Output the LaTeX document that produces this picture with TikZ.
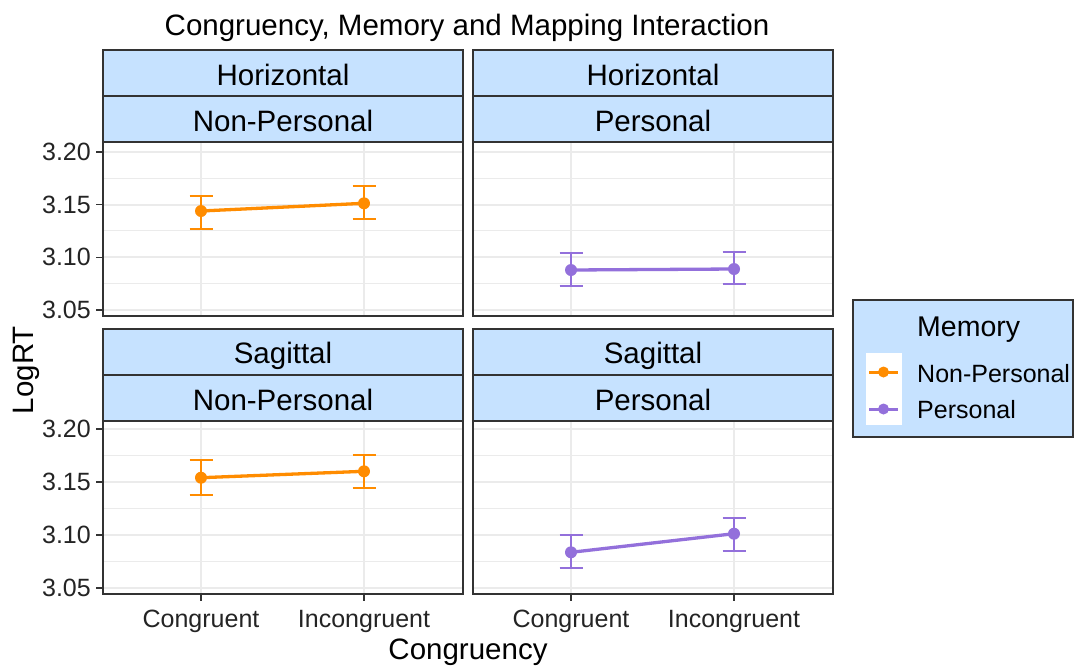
\documentclass[tikz,border=0pt]{standalone}
\usepackage{fontspec}
\setmainfont{Liberation Sans}
\definecolor{stripc}{HTML}{C6E2FF}
\definecolor{gridc}{HTML}{EBEBEB}
\definecolor{framec}{HTML}{333333}
\definecolor{npc}{HTML}{FF8C00}
\definecolor{pc}{HTML}{9370DB}
\tikzset{
  stripbox/.style={fill=stripc, draw=framec, line width=1.4pt},
  framebox/.style={draw=framec, line width=1.4pt},
  gridmaj/.style={draw=gridc, line width=1.8pt},
  gridmin/.style={draw=gridc, line width=1.1pt},
  tickline/.style={draw=framec, line width=1.4pt},
  errbar/.style={line width=2pt},
  connline/.style={line width=3.3pt},
  bigtext/.style={font=\fontsize{29.5}{34}\selectfont, inner sep=0pt, text=black},
  ticktext/.style={font=\fontsize{25}{30}\selectfont, inner sep=0pt, text=framec!70!black},
}
\newcommand{\mypanel}[8]{%
  % #1 x0, #2 x1, #3 strip top, #4 strip mid, #5 panel top, #6 panel bottom, #7 y of 3.20, #8 half step
  \fill[white] (#1,#5) rectangle (#2,#6);
  \foreach \k in {0,2,4,6} {\draw[gridmaj] (#1,{#7+\k*#8}) -- (#2,{#7+\k*#8});}
  \foreach \k in {1,3,5} {\draw[gridmin] (#1,{#7+\k*#8}) -- (#2,{#7+\k*#8});}
  \draw[gridmaj] ({#1+98},#5) -- ({#1+98},#6);
  \draw[gridmaj] ({#1+261},#5) -- ({#1+261},#6);
  \draw[framebox] (#1,#5) rectangle (#2,#6);
  \draw[stripbox] (#1,#3) rectangle (#2,#4);
  \draw[stripbox] (#1,#4) rectangle (#2,#5);
}
\newcommand{\errpt}[5]{%
  % #1 colour, #2 x, #3 y point, #4 y top, #5 y bottom
  \draw[#1, errbar] (#2,#4) -- (#2,#5);
  \draw[#1, errbar] ({#2-11.5},#4) -- ({#2+11.5},#4);
  \draw[#1, errbar] ({#2-11.5},#5) -- ({#2+11.5},#5);
}
\begin{document}
\begin{tikzpicture}[x=1pt,y=-1pt]
\useasboundingbox[fill=white] (0,0) rectangle (1076,665);

% title
\node[bigtext, anchor=base] (title) at (467,35) {Congruency, Memory and Mapping Interaction};

% panels
\mypanel{103}{463}{50}{96}{142}{316}{152}{26.3}
\mypanel{473}{833}{50}{96}{142}{316}{152}{26.3}
\mypanel{103}{463}{329}{375}{421}{594}{429}{26.5}
\mypanel{473}{833}{329}{375}{421}{594}{429}{26.5}

% strip labels
\node[bigtext, anchor=base] (s1a) at (283,85) {Horizontal};
\node[bigtext, anchor=base] (s1b) at (283,131) {Non-Personal};
\node[bigtext, anchor=base] (s2a) at (653,85) {Horizontal};
\node[bigtext, anchor=base] (s2b) at (653,131) {Personal};
\node[bigtext, anchor=base] (s3a) at (283,363) {Sagittal};
\node[bigtext, anchor=base] (s3b) at (283,410) {Non-Personal};
\node[bigtext, anchor=base] (s4a) at (653,363) {Sagittal};
\node[bigtext, anchor=base] (s4b) at (653,410) {Personal};

% y ticks and labels
\foreach \y/\t in {152/3.20, 204.6/3.15, 257.2/3.10, 309.8/3.05} {
  \draw[tickline] (96,\y) -- (103,\y);
  \node[ticktext, anchor=east] at (91,\y) {\t};
}
\foreach \y/\t in {429/3.20, 482/3.15, 535/3.10, 588/3.05} {
  \draw[tickline] (96,\y) -- (103,\y);
  \node[ticktext, anchor=east] at (91,\y) {\t};
}
% x ticks and labels
\foreach \x/\t in {201/Congruent, 364/Incongruent, 571/Congruent, 734/Incongruent} {
  \draw[tickline] (\x,594) -- (\x,601);
  \node[ticktext, anchor=base] at (\x,627) {\t};
}

% axis titles
\node[bigtext, anchor=base] (xtitle) at (468,659) {Congruency};
\node[bigtext, anchor=base, rotate=90] (ytitle) at (33,370) {LogRT};

% data: top-left (Horizontal, Non-Personal)
\errpt{npc}{201}{211}{195.7}{228.7}
\errpt{npc}{364}{203.3}{186}{219}
\draw[npc, connline] (201,211) -- (364,203.3);
\fill[npc] (201,211) circle (6) (364,203.3) circle (6);

% top-right (Horizontal, Personal)
\errpt{pc}{571}{270}{253.3}{286}
\errpt{pc}{734}{269}{251.7}{284.3}
\draw[pc, connline] (571,270) -- (734,269);
\fill[pc] (571,270) circle (6) (734,269) circle (6);

% bottom-left (Sagittal, Non-Personal)
\errpt{npc}{201}{477.7}{460.3}{495}
\errpt{npc}{364}{471.3}{455.3}{488.3}
\draw[npc, connline] (201,477.7) -- (364,471.3);
\fill[npc] (201,477.7) circle (6) (364,471.3) circle (6);

% bottom-right (Sagittal, Personal)
\errpt{pc}{571}{552.3}{535.3}{568.3}
\errpt{pc}{734}{533.7}{518.3}{551}
\draw[pc, connline] (571,552.3) -- (734,533.7);
\fill[pc] (571,552.3) circle (6) (734,533.7) circle (6);

% legend
\draw[stripbox] (853,300) rectangle (1073,437);
\fill[white] (866,353) rectangle (902,425);
\node[bigtext, anchor=base west, font=\fontsize{28.5}{34}\selectfont] (legtitle) at (917,336.7) {Memory};
\draw[npc, line width=3pt] (869,372) -- (898,372);
\fill[npc] (883.5,372) circle (5.5);
\draw[pc, line width=3pt] (869,409) -- (898,409);
\fill[pc] (883.5,409) circle (5.5);
\node[ticktext, anchor=base west, text=black] (leg1) at (917,382.7) {Non-Personal};
\node[ticktext, anchor=base west, text=black] (leg2) at (917,418.3) {Personal};
\end{tikzpicture}
\end{document}
